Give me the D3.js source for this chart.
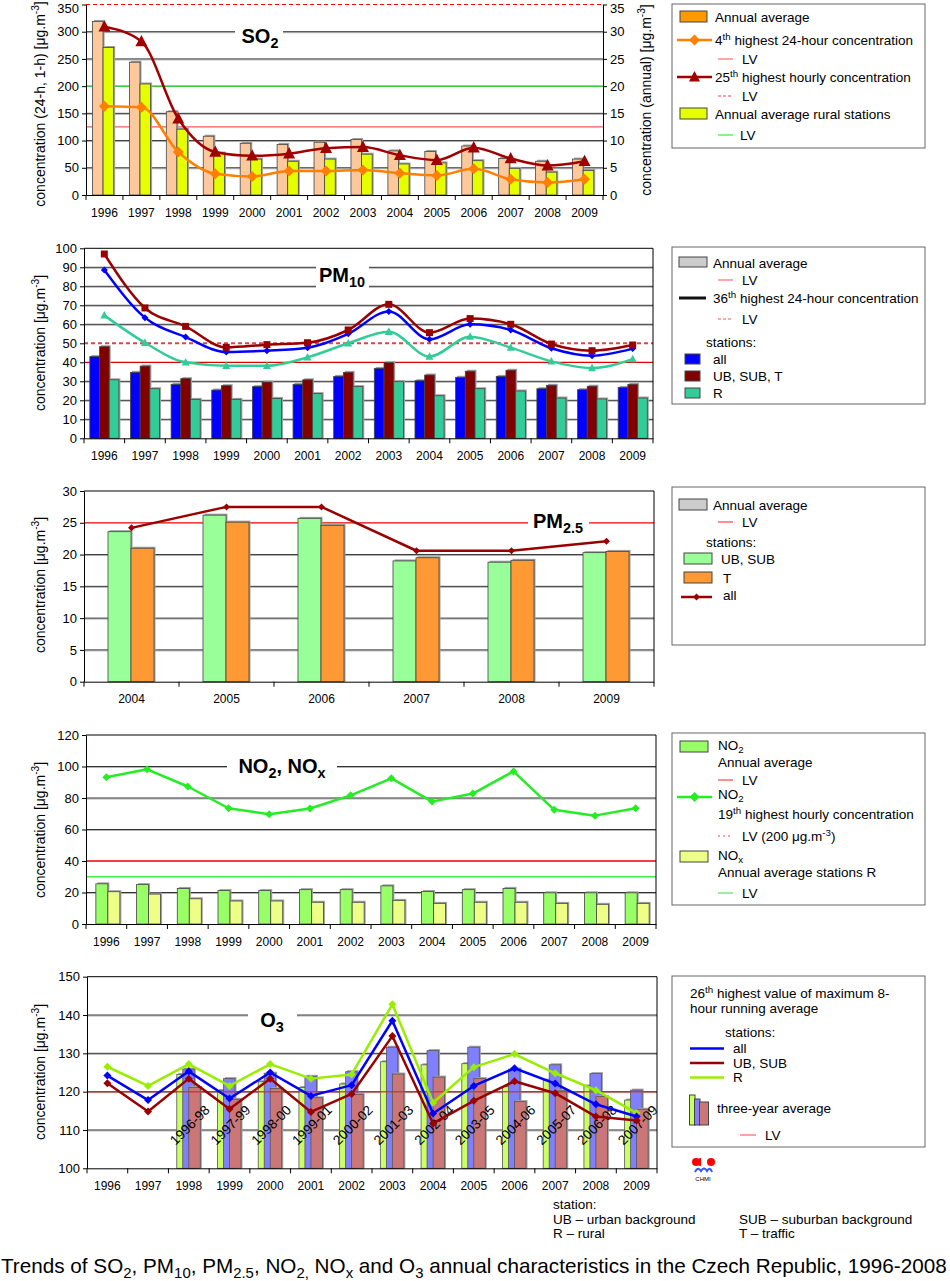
<!DOCTYPE html>
<html>
<head>
<meta charset="utf-8">
<script src="https://cdn.jsdelivr.net/npm/d3@7"></script>
<style>
body{margin:0;background:#fff;}
</style>
</head>
<body>
<div id="chart"></div>
<script>
// ---- data ----
var years = ["1996","1997","1998","1999","2000","2001","2002","2003","2004","2005","2006","2007","2008","2009"];

// SO2
var so2Annual   = [31.9,24.4,15.3,10.8,9.5,9.3,9.7,10.2,8.1,8.0,9.0,6.7,6.2,6.6];
var so2Rural    = [27.1,20.4,12.1,7.7,6.6,6.2,6.6,7.5,5.7,5.9,6.3,4.9,4.2,4.5];
var so2Max4Day  = [163,161,79,39,34,44,44,46,40,36,48,29,23,29];
var so2Max25Hr  = [309,282,140,79,72,76,86,88,73,64,87,67,54,62];
var so2Limits   = {hour:350, day:125, rural:20};

// PM10
var pm10All       = [43,34.7,28.4,25.4,27.2,28.4,32.6,36.8,30.3,32.1,32.6,26.1,25.6,26.8];
var pm10Urban     = [48.2,38,31.4,27.7,29.6,30.8,34.7,39.8,33.3,35.3,35.8,27.9,27.4,28.4];
var pm10Rural     = [30.8,26.1,20.5,20.5,21,23.5,27.2,29.8,22.4,26.1,24.9,21.2,20.7,21.2];
var pm10Max36All  = [88.6,63.5,53.3,45.4,46.1,47.7,55,66.8,52.1,60,57,47.4,43.5,47.2];
var pm10Max36Urb  = [97,68.6,58.9,47.9,49.3,50.3,57,70.5,55.6,63,60,49.6,46.1,49.1];
var pm10Max36Rur  = [64.7,50.3,40,38.2,38.2,42.6,50,56.1,43,53.5,47.7,40.5,37,41.7];
var pm10Limits    = {annual:40, day:50};

// PM2.5
var pm25Years   = ["2004","2005","2006","2007","2008","2009"];
var pm25Urban   = [23.6,26.2,25.7,19.0,18.8,20.3];
var pm25Traffic = [21.0,25.1,24.6,19.5,19.1,20.5];
var pm25All     = [24.2,27.5,27.5,20.6,20.6,22.1];
var pm25Limit   = 25;

// NO2, NOx
var no2Annual  = [25.5,25,22.6,21.2,21.2,21.8,21.8,24.2,20.6,21.8,22.6,19.8,19.8,19.8];
var noxRural   = [20.5,19,16,14.6,14.6,13.8,13.8,15,13.1,13.8,13.8,13.1,12.5,13.1];
var no2Max19   = [93.2,98.2,87.3,73.5,69.7,73.3,81.7,92.5,77.7,82.8,96.9,72.5,68.8,73.5];
var no2Limits  = {no2:40, nox:30};

// O3
var o3Periods   = ["1996-98","1997-99","1998-00","1999-01","2000-02","2001-03","2002-04","2003-05","2004-06","2005-07","2006-08","2007-09"];
var o3AvgRural  = [124.5,120.3,122.6,121.1,122,127.8,127,127.3,121.3,123,121.5,117.8];
var o3AvgAll    = [125.9,123.4,124.8,124,125.2,131.6,130.7,131.6,125.9,127,124.7,120.4];
var o3AvgUrban  = [121.1,118,120.8,118.4,119.3,124.6,123.8,123.4,117.4,120.2,118.7,115.4];
var o3All       = [124.2,117.8,125.3,118.2,125,118.9,121.7,138.5,114.3,121.5,126.1,122.1,116.7,113.5];
var o3Urban     = [122.2,114.8,123.4,115.5,123.4,114.7,119.4,134.5,111.7,117.6,122.7,119.6,113.5,112.5];
var o3Rural     = [126.5,121.5,127.2,121.5,127.2,123.4,124.5,142.8,117.1,126.4,129.8,124.8,120.4,114.4];
var o3Limit     = 120;

var FONT = 'Arial, "Liberation Sans", sans-serif';
var LEG = 13.5;   // legend text size

var svg = d3.select('#chart').append('svg')
    .attr('width',950).attr('height',1281)
    .attr('font-family',FONT);

// ---- helpers ----
function rich(sel, str, size){
    var parts = str.split(/(_\{[^}]*\}|\^\{[^}]*\})/).filter(function(s){return s.length;});
    var shift = 0;
    parts.forEach(function(p){
        var t = sel.append('tspan'), d = 0;
        if(p[0]==='_'){ d = size*0.25; t.attr('font-size',size*0.72); p = p.slice(2,-1); }
        else if(p[0]==='^'){ d = -size*0.4; t.attr('font-size',size*0.72); p = p.slice(2,-1); }
        t.attr('dy',d-shift).text(p);
        shift = d;
    });
    return sel;
}
function label(g, x, y, str, size, opts){
    opts = opts || {};
    var t = g.append('text').attr('x',x).attr('y',y).attr('font-size',size)
        .attr('fill','#000').attr('text-anchor',opts.anchor||'start');
    if(opts.bold) t.attr('font-weight','bold');
    if(opts.transform) t.attr('transform',opts.transform);
    return rich(t,str,size);
}
function hline(g, y, x0, x1, color, width, dash){
    var l = g.append('line').attr('x1',x0).attr('x2',x1).attr('y1',y).attr('y2',y)
        .attr('stroke',color).attr('stroke-width',width||1);
    if(dash) l.attr('stroke-dasharray',dash);
    return l;
}
function grid(g, y, vals, x0, x1){
    vals.forEach(function(v){
        hline(g, y(v)+1, x0, x1, '#b4b4b4', 1);
        hline(g, y(v), x0, x1, '#333', 1);
    });
}
function yAxis(g, y, vals, xPos, right){
    var ax = right ? d3.axisRight(y) : d3.axisLeft(y);
    var a = g.append('g').attr('transform','translate('+xPos+',0)')
        .call(ax.tickValues(vals).tickSize(4).tickSizeOuter(0).tickPadding(3));
    a.attr('font-size',13).attr('font-family',FONT);
    a.select('.domain').attr('stroke','#000');
    a.selectAll('line').attr('stroke','#000');
    a.selectAll('text').attr('fill','#000');
    return a;
}
function xAxis(g, x, yPos){
    var a = g.append('g').attr('transform','translate(0,'+yPos+')')
        .call(d3.axisBottom(x).tickSize(0).tickSizeOuter(0).tickPadding(13));
    a.attr('font-size',12).attr('font-family',FONT);
    a.select('.domain').attr('stroke','#000');
    a.selectAll('text').attr('fill','#000');
    var edges = x.domain().map(function(d){return x(d);}).concat([x.range()[1]]);
    a.selectAll('line.edge').data(edges).join('line').attr('class','edge')
        .attr('x1',function(d){return d;}).attr('x2',function(d){return d;})
        .attr('y1',0).attr('y2',5).attr('stroke','#000');
    return a;
}
function bars(g, vals, xf, y, w, fill, stroke){
    var base = y.range()[0];
    var s = g.append('g');
    s.append('g').selectAll('rect').data(vals).join('rect')
        .attr('x',function(d,i){return xf(i)+1.5;}).attr('y',function(d){return y(d)-1.5;})
        .attr('width',w).attr('height',function(d){return base-y(d)+1.5;})
        .attr('fill','#a0a0a0');
    s.append('g').selectAll('rect').data(vals).join('rect')
        .attr('x',function(d,i){return xf(i);}).attr('y',function(d){return y(d);})
        .attr('width',w).attr('height',function(d){return base-y(d);})
        .attr('fill',fill).attr('stroke',stroke||'#444').attr('stroke-width',0.8);
}
function shapePath(shape, r){
    if(shape==='diamond') return 'M0,'+(-r)+'L'+r+',0L0,'+r+'L'+(-r)+',0Z';
    if(shape==='square') return 'M'+(-r)+','+(-r)+'h'+(2*r)+'v'+(2*r)+'h'+(-2*r)+'Z';
    if(shape==='triangle') return 'M0,'+(-r*1.1)+'L'+r+','+(r*0.8)+'L'+(-r)+','+(r*0.8)+'Z';
    return '';
}
function series(g, vals, cx, y, color, width, curve, shape, r){
    var line = d3.line().x(function(d,i){return cx(i);}).y(function(d){return y(d);}).curve(curve);
    g.append('path').datum(vals).attr('d',line).attr('fill','none')
        .attr('stroke',color).attr('stroke-width',width).attr('stroke-linejoin','round');
    g.append('g').selectAll('path').data(vals).join('path')
        .attr('transform',function(d,i){return 'translate('+cx(i)+','+y(d)+')';})
        .attr('d',shapePath(shape,r)).attr('fill',color);
}
function yTitle(g, x, cy, str){
    label(g, 0, 0, str, 14, {anchor:'middle', transform:'translate('+x+','+cy+') rotate(-90)'});
}
function title(g, rect, x, y, str){
    g.append('rect').attr('x',rect[0]).attr('y',rect[1]).attr('width',rect[2]).attr('height',rect[3]).attr('fill','#fff');
    label(g, x, y, str, 20, {anchor:'middle', bold:true});
}
function legendBox(g, x0, y0, x1, y1){
    g.append('rect').attr('x',x0).attr('y',y0).attr('width',x1-x0).attr('height',y1-y0)
        .attr('fill','#fff').attr('stroke','#666').attr('stroke-width',1);
}
function swatch(g, x, y, w, h, fill){
    g.append('rect').attr('x',x).attr('y',y).attr('width',w).attr('height',h)
        .attr('fill',fill).attr('stroke','#444').attr('stroke-width',1);
}
function legLine(g, x0, x1, y, color, width, dash, shape, r){
    hline(g, y, x0, x1, color, width, dash);
    if(shape) g.append('path').attr('transform','translate('+((x0+x1)/2)+','+y+')').attr('d',shapePath(shape,r)).attr('fill',color);
}

// ================= Panel 1: SO2 =================
(function(){
    var g = svg.append('g');
    var x = d3.scaleBand().domain(years).range([86,603]);
    var yL = d3.scaleLinear().domain([0,350]).range([195,4.5]);
    var yR = d3.scaleLinear().domain([0,35]).range([195,4.5]);
    var cx = function(i){return x(years[i])+x.bandwidth()/2;};
    grid(g, yL, [50,100,150,250,300], 86, 603);
    hline(g, yL(so2Limits.rural*10), 86, 603, '#00bb00', 1.2);
    hline(g, yL(so2Limits.day), 86, 603, '#ff5a5a', 1.2);
    hline(g, yL(so2Limits.hour), 86, 603, '#ff0000', 1.2, '4,3');
    bars(g, so2Annual, function(i){return cx(i)-12;}, yR, 10.6, '#fcc89c');
    bars(g, so2Rural, function(i){return cx(i)-1.4;}, yR, 10.6, '#e6ff00');
    var aL = yAxis(g, yL, d3.range(0,351,50), 86);
    var aR = yAxis(g, yR, d3.range(0,36,5), 603, true);
    // keep the top labels inside the page
    aL.selectAll('.tick text').filter(function(d){return d===350;}).attr('dy','0.62em');
    aR.selectAll('.tick text').filter(function(d){return d===35;}).attr('dy','0.62em');
    xAxis(g, x, 195);
    series(g, so2Max4Day, cx, yL, '#ff8000', 2.5, d3.curveMonotoneX, 'diamond', 5.5);
    series(g, so2Max25Hr, cx, yL, '#a00000', 2.5, d3.curveMonotoneX, 'triangle', 6);
    title(g, [235,22,48,28], 260, 43, 'SO_{2}');
    yTitle(g, 45, 104, 'concentration (24-h, 1-h) [μg.m^{-3}]');
    yTitle(g, 651, 100, 'concentration (annual) [μg.m^{-3}]');

    var L = svg.append('g');
    legendBox(L, 672, 4, 925, 148);
    swatch(L, 680, 11, 27, 11, '#ff9900');
    label(L, 715, 22, 'Annual average', LEG);
    legLine(L, 677, 712, 40, '#ff8000', 2.5, null, 'diamond', 5.5);
    label(L, 715, 45, '4^{th} highest 24-hour concentration', LEG);
    legLine(L, 718, 733, 59, '#ff6a6a', 1.2);
    label(L, 742, 64, 'LV', LEG);
    legLine(L, 677, 712, 77, '#a00000', 2.5, null, 'triangle', 5.5);
    label(L, 715, 82, '25^{th} highest hourly concentration', LEG);
    legLine(L, 718, 733, 96, '#ff4040', 1, '3,2');
    label(L, 742, 101, 'LV', LEG);
    swatch(L, 680, 108, 27, 11, '#e6ff00');
    label(L, 715, 119, 'Annual average rural stations', LEG);
    legLine(L, 718, 733, 135, '#66ee66', 1.5);
    label(L, 740, 140, 'LV', LEG);
})();

// ================= Panel 2: PM10 =================
(function(){
    var g = svg.append('g');
    var x = d3.scaleBand().domain(years).range([84,653]);
    var y = d3.scaleLinear().domain([0,100]).range([438.3,248.3]);
    var cx = function(i){return x(years[i])+x.bandwidth()/2;};
    grid(g, y, [10,20,30,60,70,80,90], 84, 653);
    hline(g, y(pm10Limits.annual), 84, 653, '#dd0000', 1.3);
    hline(g, y(pm10Limits.day), 84, 653, '#dd4444', 2, '4,3');
    bars(g, pm10All, function(i){return cx(i)-14.5;}, y, 9.7, '#0000ff');
    bars(g, pm10Urban, function(i){return cx(i)-4.8;}, y, 9.7, '#800000');
    bars(g, pm10Rural, function(i){return cx(i)+4.9;}, y, 9.7, '#33cc99');
    hline(g, 248.3, 84, 653, '#000', 1);
    g.append('line').attr('x1',653).attr('x2',653).attr('y1',248.3).attr('y2',438.3).attr('stroke','#000');
    yAxis(g, y, d3.range(0,101,10), 84);
    xAxis(g, x, 438.3);
    title(g, [316,258,53,34], 342, 282, 'PM_{10}');
    series(g, pm10Max36Rur, cx, y, '#33cc99', 2.5, d3.curveMonotoneX, 'triangle', 4);
    series(g, pm10Max36All, cx, y, '#0000ff', 2.5, d3.curveMonotoneX, 'diamond', 3.5);
    series(g, pm10Max36Urb, cx, y, '#990000', 2.5, d3.curveMonotoneX, 'square', 3.5);
    yTitle(g, 45, 343, 'concentration [μg.m^{-3}]');

    var L = svg.append('g');
    legendBox(L, 672, 247, 925, 404);
    swatch(L, 679, 257, 28, 10, '#cccccc');
    label(L, 713, 268, 'Annual average', LEG);
    legLine(L, 718, 733, 280, '#ff8a8a', 1.5);
    label(L, 742, 285, 'LV', LEG);
    legLine(L, 679, 706, 298, '#111', 3);
    label(L, 713, 303, '36^{th} highest 24-hour concentration', LEG);
    legLine(L, 718, 733, 319, '#ff5555', 1, '3,2');
    label(L, 742, 324, 'LV', LEG);
    label(L, 706, 347, 'stations:', LEG);
    swatch(L, 685, 354, 15, 10, '#0000ff');
    label(L, 713, 364, 'all', LEG);
    swatch(L, 685, 371, 15, 10, '#800000');
    label(L, 713, 381, 'UB, SUB, T', LEG);
    swatch(L, 685, 388, 15, 10, '#33cc99');
    label(L, 713, 398, 'R', LEG);
})();

// ================= Panel 3: PM2.5 =================
(function(){
    var g = svg.append('g');
    var x = d3.scaleBand().domain(pm25Years).range([84,654]);
    var y = d3.scaleLinear().domain([0,30]).range([681.7,491]);
    var cx = function(i){return x(pm25Years[i])+x.bandwidth()/2;};
    grid(g, y, [5,10,15,20], 84, 654);
    hline(g, y(pm25Limit), 84, 654, '#ee0000', 1.3);
    bars(g, pm25Urban, function(i){return cx(i)-23.5;}, y, 23, '#99ff99');
    bars(g, pm25Traffic, function(i){return cx(i)-0.5;}, y, 23, '#ff9933');
    hline(g, 491, 84, 654, '#000', 1);
    g.append('line').attr('x1',654).attr('x2',654).attr('y1',491).attr('y2',681.7).attr('stroke','#000');
    yAxis(g, y, d3.range(0,31,5), 84);
    xAxis(g, x, 681.7);
    title(g, [528,508,61,30], 558, 528, 'PM_{2.5}');
    series(g, pm25All, cx, y, '#990000', 2.5, d3.curveLinear, 'diamond', 3.5);
    yTitle(g, 45, 585, 'concentration [μg.m^{-3}]');

    var L = svg.append('g');
    legendBox(L, 672, 487, 925, 645);
    swatch(L, 679, 499, 28, 11, '#cccccc');
    label(L, 713, 510, 'Annual average', LEG);
    legLine(L, 718, 733, 522, '#ff6a6a', 1.5);
    label(L, 742, 527, 'LV', LEG);
    label(L, 706, 547, 'stations:', LEG);
    swatch(L, 684, 553, 28, 11, '#99ff99');
    label(L, 721, 564, 'UB, SUB', LEG);
    swatch(L, 684, 572, 28, 11, '#ff9933');
    label(L, 723, 583, 'T', LEG);
    legLine(L, 681, 712, 597, '#990000', 2.5, null, 'diamond', 3.5);
    label(L, 723, 600, 'all', LEG);
})();

// ================= Panel 4: NO2, NOx =================
(function(){
    var g = svg.append('g');
    var x = d3.scaleBand().domain(years).range([86,656]);
    var y = d3.scaleLinear().domain([0,120]).range([924,735]);
    var cx = function(i){return x(years[i])+x.bandwidth()/2;};
    grid(g, y, [20,60,80,100], 86, 656);
    hline(g, y(no2Limits.no2), 86, 656, '#ee0000', 1.3);
    hline(g, y(no2Limits.nox), 86, 656, '#44ee44', 1.3);
    bars(g, no2Annual, function(i){return cx(i)-10.5;}, y, 12, '#99ff66');
    bars(g, noxRural, function(i){return cx(i)+1.5;}, y, 12, '#eeff88');
    hline(g, 735, 86, 656, '#000', 1);
    g.append('line').attr('x1',656).attr('x2',656).attr('y1',735).attr('y2',924).attr('stroke','#000');
    yAxis(g, y, d3.range(0,121,20), 86);
    xAxis(g, x, 924);
    title(g, [227,752,110,30], 282, 773, 'NO_{2}, NO_{x}');
    series(g, no2Max19, cx, y, '#22ee22', 2.5, d3.curveLinear, 'diamond', 4);
    yTitle(g, 45, 830, 'concentration [μg.m^{-3}]');

    var L = svg.append('g');
    legendBox(L, 672, 733, 925, 905);
    swatch(L, 680, 741, 28, 11, '#99ff66');
    label(L, 718, 750, 'NO_{2}', LEG);
    label(L, 718, 767, 'Annual average', LEG);
    legLine(L, 718, 733, 780, '#ff4444', 1.2);
    label(L, 742, 785, 'LV', LEG);
    legLine(L, 677, 712, 797, '#22ee22', 2.5, null, 'diamond', 5);
    label(L, 718, 799, 'NO_{2}', LEG);
    label(L, 718, 819, '19^{th} highest hourly concentration', LEG);
    legLine(L, 718, 733, 836, '#ff4444', 1, '2,3');
    label(L, 742, 841, 'LV (200 μg.m^{-3})', LEG);
    swatch(L, 680, 851, 28, 11, '#eeff88');
    label(L, 718, 860, 'NO_{x}', LEG);
    label(L, 718, 877, 'Annual average stations R', LEG);
    legLine(L, 718, 733, 893, '#77ee77', 1.5);
    label(L, 742, 898, 'LV', LEG);
})();

// ================= Panel 5: O3 =================
(function(){
    var g = svg.append('g');
    var x = d3.scaleBand().domain(years).range([87,657]);
    var y = d3.scaleLinear().domain([100,150]).range([1168.3,976.7]);
    var cx = function(i){return x(years[i])+x.bandwidth()/2;};
    var px = function(i){return cx(i+2);};
    grid(g, y, [110,120,130,140], 87, 657);
    bars(g, o3AvgRural, function(i){return px(i)-12;}, y, 11.5, '#ccff66', '#555');
    bars(g, o3AvgAll, function(i){return px(i)-6;}, y, 11.5, '#8080ff', '#555');
    bars(g, o3AvgUrban, function(i){return px(i);}, y, 11.5, '#cc7777', '#555');
    hline(g, y(o3Limit), 87, 657, '#c03838', 1.5).attr('opacity',0.85);
    hline(g, 976.7, 87, 657, '#000', 1);
    g.append('line').attr('x1',657).attr('x2',657).attr('y1',976.7).attr('y2',1168.3).attr('stroke','#000');
    yAxis(g, y, d3.range(100,151,10), 87);
    xAxis(g, x, 1168.3);
    g.append('g').selectAll('text').data(o3Periods).join('text')
        .attr('transform',function(d,i){return 'translate('+(px(i)+1)+',1125) rotate(-45)';})
        .attr('text-anchor','middle').attr('dy','0.35em').attr('font-size',13.5).attr('fill','#000')
        .text(function(d){return d;});
    title(g, [248,1002,49,32], 272, 1027, 'O_{3}');
    series(g, o3Rural, cx, y, '#99ee00', 2.5, d3.curveLinear, 'diamond', 4);
    series(g, o3All, cx, y, '#0000ff', 2.5, d3.curveLinear, 'diamond', 4);
    series(g, o3Urban, cx, y, '#990000', 2.5, d3.curveLinear, 'diamond', 4);
    yTitle(g, 45, 1072, 'concentration [μg.m^{-3}]');

    var L = svg.append('g');
    legendBox(L, 672, 976, 925, 1147);
    label(L, 690, 998, '26^{th} highest value of maximum 8-', LEG);
    label(L, 690, 1013, 'hour running average', LEG);
    label(L, 725, 1037, 'stations:', LEG);
    legLine(L, 690, 724, 1048.5, '#0000ff', 2.5);
    label(L, 733, 1053, 'all', LEG);
    legLine(L, 690, 724, 1063, '#990000', 2.5);
    label(L, 733, 1068, 'UB, SUB', LEG);
    legLine(L, 690, 724, 1077.5, '#99ee00', 2.5);
    label(L, 733, 1082, 'R', LEG);
    swatch(L, 689.5, 1095, 5.5, 30, '#ccff66');
    swatch(L, 694.5, 1099, 5.5, 26, '#8080ff');
    swatch(L, 699.5, 1102, 9, 23, '#cc7777');
    label(L, 717, 1113, 'three-year average', LEG);
    legLine(L, 740, 756, 1135, '#ff6666', 1.2);
    label(L, 765, 1140, 'LV', LEG);

    // CHMI logo
    var lg = svg.append('g');
    lg.append('circle').attr('cx',696).attr('cy',1162).attr('r',4).attr('fill','#ff0000');
    lg.append('circle').attr('cx',711).attr('cy',1162).attr('r',4).attr('fill','#ff0000');
    lg.append('path').attr('d','M701,1158 A4,4 0 0 0 701,1166 Z').attr('fill','#ff0000');
    lg.append('path').attr('d','M695,1172 Q698,1166 701,1171 Q704,1166 707,1171 Q710,1166 712,1172')
        .attr('fill','none').attr('stroke','#3355ff').attr('stroke-width',2);
    lg.append('text').attr('x',703).attr('y',1181).attr('text-anchor','middle').attr('font-size',6).attr('fill','#000').text('CHMI');
})();

// ---- footnotes & caption ----
var notes = svg.append('g');
label(notes, 553, 1209, 'station:', LEG);
label(notes, 553, 1224, 'UB – urban background', LEG);
label(notes, 553, 1238, 'R – rural', LEG);
label(notes, 739, 1224, 'SUB – suburban background', LEG);
label(notes, 739, 1238, 'T – traffic', LEG);
label(notes, 1, 1273, 'Trends of SO_{2}, PM_{10}, PM_{2.5}, NO_{2,} NO_{x} and O_{3} annual characteristics in the Czech Republic, 1996-2008', 20.7);
</script>
</body>
</html>
